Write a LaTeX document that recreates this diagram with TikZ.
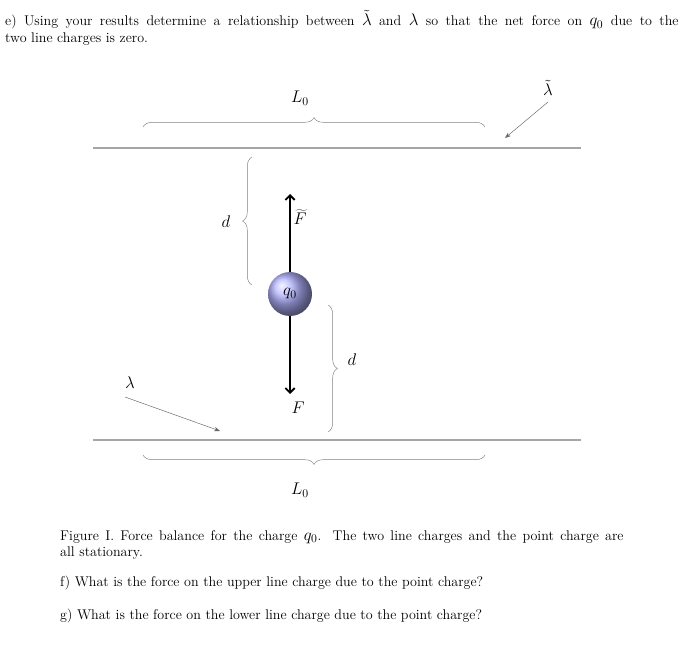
\documentclass[tikz,border=0pt]{standalone}
\usetikzlibrary{arrows.meta, decorations.pathreplacing}
\begin{document}
\begin{tikzpicture}[x=0.03cm, y=-0.03cm,
        wire/.style={gray!70, line width=0.9pt},
        brace/.style={gray, decorate, decoration={brace, amplitude=8pt}},
        pointer/.style={gray!80!black, -{Stealth[length=5pt]}},
        force/.style={line width=1.6pt, -{Straight Barb[length=4pt]}},
        txt/.style={inner sep=0pt, anchor=north west, align=justify, font=\large}
    ]
        \useasboundingbox (0,0) rectangle (700,654);
        % Question text
        \node[txt, text width=20.2cm] (qe) at (5,10) {e) Using your results determine a relationship between {\Large $\tilde{\lambda}$} and {\Large $\lambda$} so that the net force on {\Large $q_0$} due to the\linebreak two line charges is zero.};

        % Line charges
        \coordinate (TL) at (93,148);  \coordinate (TR) at (581,148);
        \coordinate (BL) at (93,440);  \coordinate (BR) at (581,440);
        \draw[wire] (TL) -- (TR);
        \draw[wire] (BL) -- (BR);

        % Lengths
        \coordinate (tb1) at (143,127); \coordinate (tb2) at (485,127);
        \draw[brace] (tb1) -- (tb2);
        \node (Ltop) at (300,98) {\Large $L_0$};
        \coordinate (bb1) at (485,455); \coordinate (bb2) at (143,455);
        \draw[brace] (bb1) -- (bb2);
        \node (Lbot) at (300,490) {\Large $L_0$};

        % Charge densities
        \node (lamt) at (548,88) {\Large $\tilde{\lambda}$};
        \coordinate (lamtstart) at (548,102); \coordinate (lamtend) at (505,138);
        \draw[pointer] (lamtstart) -- (lamtend);
        \node (lamb) at (130,383) {\Large $\lambda$};
        \coordinate (lambstart) at (125,397); \coordinate (lambend) at (220,431);
        \draw[pointer] (lambstart) -- (lambend);

        % Point charge and forces
        \coordinate (up) at (290,194); \coordinate (down) at (290,394);
        \draw[force] (290,275) -- (up);
        \draw[force] (290,313) -- (down);
        \node[circle, minimum size=1.32cm, ball color=blue!30!white, inner sep=0pt] (q) at (290,294) {\Large $q_0$};
        \node (Ft) at (300,217) {\Large $\widetilde{F}$};
        \node (F) at (298,408) {\Large $F$};

        % Distances
        \coordinate (ld1) at (252,285); \coordinate (ld2) at (252,157);
        \draw[brace] (ld1) -- (ld2);
        \node (dl) at (226,222) {\Large $d$};
        \coordinate (rd1) at (328,305); \coordinate (rd2) at (328,432);
        \draw[brace] (rd1) -- (rd2);
        \node (dr) at (352,360) {\Large $d$};

        % Caption and further questions
        \node[txt, text width=16.9cm] (cap) at (60,530) {Figure I. Force balance for the charge {\Large $q_0$}. The two line charges and the point charge are\linebreak all stationary.};
        \node[txt] (qf) at (60,576) {f) What is the force on the upper line charge due to the point charge?};
        \node[txt] (qg) at (60,609) {g) What is the force on the lower line charge due to the point charge?};
\end{tikzpicture}
\end{document}
